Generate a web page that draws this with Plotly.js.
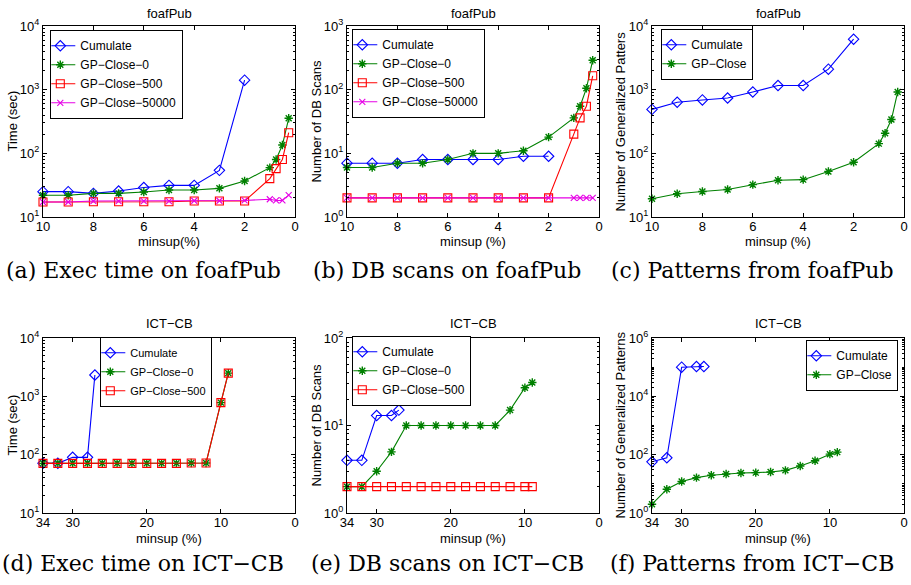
<!DOCTYPE html>
<html>
<head>
<meta charset="utf-8">
<script src="https://cdn.plot.ly/plotly-3.0.1.min.js"></script>
<style>html,body{margin:0;padding:0;background:#fff;}#chart{width:911px;height:585px;}</style>
</head>
<body>
<div id="chart"></div>
<script>
// ---------- data ----------
// foafPub (minsup %)
var xFoafCum = [10, 9, 8, 7, 6, 5, 4, 3, 2];
var xFoafGP = [10, 9, 8, 7, 6, 5, 4, 3, 2, 1, 0.75, 0.5, 0.25];
// (a) execution time (sec)
var timeFoafCumulate = [25, 25, 23.5, 25.6, 29, 31.4, 31.4, 54, 1410];
var timeFoafGP0 = [22, 22, 23.5, 23.5, 24.7, 26.6, 26.6, 28.2, 36.7, 59.6, 80, 135, 355];
var timeFoafGP500 = [17.2, 17.2, 17.4, 17.4, 17.4, 17.4, 17.8, 17.8, 17.8, 40, 57.5, 80, 211];
var timeFoafGP50000 = [17.2, 17.2, 17.8, 17.8, 17.8, 17.8, 18, 18, 18.2, 19, 18.2, 18.2, 22];
// (b) number of DB scans
var scansFoafCumulate = [7, 7, 7, 8, 8, 8, 8, 9, 9];
var scansFoafGP0 = [6, 6, 7, 7, 8, 10, 10, 11, 18, 36, 55, 105, 290];
var scansFoafGP500 = [2, 2, 2, 2, 2, 2, 2, 2, 2, 20, 36, 55, 165];
var scansFoafGP50000 = [2, 2, 2, 2, 2, 2, 2, 2, 2, 2, 2, 2, 2];
// (c) number of generalized patterns
var patFoafCumulate = [490, 635, 690, 740, 920, 1160, 1160, 2100, 6200];
var patFoafGP = [19.3, 23.2, 25.2, 27.1, 32.2, 37.7, 38.6, 52, 72.6, 142, 207, 340, 920];

// ICT-CB (minsup %)
var xIctCum = [34, 32, 30, 28, 27];
var xIctGP = [34, 32, 30, 28, 26, 24, 22, 20, 18, 16, 14, 12, 10, 9];
// (d) execution time (sec)
var timeIctCumulate = [71, 71, 90, 90, 2320];
var timeIctGP0 = [71, 71, 71, 71, 71, 71, 71, 71, 71, 71, 72, 72, 780, 2500];
var timeIctGP500 = [71, 71, 71, 71, 71, 71, 71, 71, 71, 71, 72, 72, 780, 2500];
// (e) number of DB scans
var scansIctCumulate = [4, 4, 13, 13, 15];
var scansIctGP0 = [2, 2, 3, 5, 10, 10, 10, 10, 10, 10, 10, 15, 27, 31];
var scansIctGP500 = [2, 2, 2, 2, 2, 2, 2, 2, 2, 2, 2, 2, 2, 2];
// (f) number of generalized patterns
var patIctCumulate = [57, 78, 100000, 105000, 105000];
var patIctGP = [2, 6.5, 12, 16.3, 19.6, 21.8, 23.5, 24.2, 25.5, 29, 40.7, 62, 104, 122];

// labels
var panelTitles = ['foafPub', 'foafPub', 'foafPub', 'ICT−CB', 'ICT−CB', 'ICT−CB'];
var yTitles = ['Time (sec)', 'Number of DB Scans', 'Number of Generalized Patters',
               'Time (sec)', 'Number of DB Scans', 'Number of Generalized Patterns'];
var xTitles = ['minsup(%)', 'minsup (%)', 'minsup (%)', 'minsup (%)', 'minsup (%)', 'minsup (%)'];
var captions = ['(a) Exec time on foafPub', '(b) DB scans on foafPub', '(c) Patterns from foafPub',
                '(d) Exec time on ICT−CB', '(e) DB scans on ICT−CB', '(f) Patterns from ICT−CB'];
var foafXTicks = [10, 8, 6, 4, 2, 0];
var ictXTicks = [34, 30, 20, 10, 0];
var yTickVals1to4 = [10, 100, 1000, 10000];
var yTickText1to4 = ['10<sup>1</sup>', '10<sup>2</sup>', '10<sup>3</sup>', '10<sup>4</sup>'];
var yTickVals0to3 = [1, 10, 100, 1000];
var yTickText0to3 = ['10<sup>0</sup>', '10<sup>1</sup>', '10<sup>2</sup>', '10<sup>3</sup>'];
var yTickVals0to2 = [1, 10, 100];
var yTickText0to2 = ['10<sup>0</sup>', '10<sup>1</sup>', '10<sup>2</sup>'];
var yTickVals0to6 = [1, 100, 10000, 1000000];
var yTickText0to6 = ['10<sup>0</sup>', '10<sup>2</sup>', '10<sup>4</sup>', '10<sup>6</sup>'];

// ---------- styling ----------
var W = 911, H = 585;
var FONT = 'Liberation Sans, Arial, sans-serif';
var SERIF = 'DejaVu Serif, Liberation Serif, serif';
var BLUE = '#0000ff', GREEN = '#008000', RED = '#ff0000', MAG = '#e600e6';

var cols = [[43, 295], [347, 599], [652, 904]];
var rows = [[26, 217], [338, 513]];
function xd(c) { return [cols[c][0] / W, cols[c][1] / W]; }
function yd(r) { return [1 - rows[r][1] / H, 1 - rows[r][0] / H]; }

function styleCum() { return {mode: 'lines+markers', cliponaxis: false, line: {color: BLUE, width: 1.1},
  marker: {symbol: 'diamond-open', size: 8, color: BLUE, line: {width: 1.1, color: BLUE}}}; }
function styleGP0() { return {mode: 'lines+markers', cliponaxis: false, line: {color: GREEN, width: 1.1},
  marker: {symbol: 'asterisk-open', size: 7, color: GREEN, line: {width: 1.4, color: GREEN}}}; }
function styleGP500() { return {mode: 'lines+markers', cliponaxis: false, line: {color: RED, width: 1.1},
  marker: {symbol: 'square-open', size: 8, color: RED, line: {width: 1.1, color: RED}}}; }
function styleGP50000() { return {mode: 'lines+markers', cliponaxis: false, line: {color: MAG, width: 1.1},
  marker: {symbol: 'x-thin-open', size: 6, color: MAG, line: {width: 1.1, color: MAG}}}; }

function tr(style, x, y, name, ax, lg) {
  var t = style();
  t.type = 'scatter'; t.x = x; t.y = y; t.name = name;
  t.xaxis = 'x' + (ax === 1 ? '' : ax); t.yaxis = 'y' + (ax === 1 ? '' : ax);
  t.legend = lg;
  return t;
}

var data = [
  tr(styleCum, xFoafCum, timeFoafCumulate, 'Cumulate', 1, 'legend'),
  tr(styleGP0, xFoafGP, timeFoafGP0, 'GP−Close−0', 1, 'legend'),
  tr(styleGP500, xFoafGP, timeFoafGP500, 'GP−Close−500', 1, 'legend'),
  tr(styleGP50000, xFoafGP, timeFoafGP50000, 'GP−Close−50000', 1, 'legend'),

  tr(styleCum, xFoafCum, scansFoafCumulate, 'Cumulate', 2, 'legend2'),
  tr(styleGP0, xFoafGP, scansFoafGP0, 'GP−Close−0', 2, 'legend2'),
  tr(styleGP500, xFoafGP, scansFoafGP500, 'GP−Close−500', 2, 'legend2'),
  tr(styleGP50000, xFoafGP, scansFoafGP50000, 'GP−Close−50000', 2, 'legend2'),

  tr(styleCum, xFoafCum, patFoafCumulate, 'Cumulate', 3, 'legend3'),
  tr(styleGP0, xFoafGP, patFoafGP, 'GP−Close', 3, 'legend3'),

  tr(styleCum, xIctCum, timeIctCumulate, 'Cumulate', 4, 'legend4'),
  tr(styleGP0, xIctGP, timeIctGP0, 'GP−Close−0', 4, 'legend4'),
  tr(styleGP500, xIctGP, timeIctGP500, 'GP−Close−500', 4, 'legend4'),

  tr(styleCum, xIctCum, scansIctCumulate, 'Cumulate', 5, 'legend5'),
  tr(styleGP0, xIctGP, scansIctGP0, 'GP−Close−0', 5, 'legend5'),
  tr(styleGP500, xIctGP, scansIctGP500, 'GP−Close−500', 5, 'legend5'),

  tr(styleCum, xIctCum, patIctCumulate, 'Cumulate', 6, 'legend6'),
  tr(styleGP0, xIctGP, patIctGP, 'GP−Close', 6, 'legend6')
];

function xaxis(c, r, range, ticks) {
  return {domain: xd(c), range: range, autorange: false, tickmode: 'array', tickvals: ticks,
    ticks: 'inside', ticklen: 4, tickcolor: '#000', showline: true, linecolor: '#000', linewidth: 1,
    mirror: 'ticks', showgrid: false, zeroline: false, tickfont: {family: FONT, size: 13, color: '#000'},
    ticklabelstandoff: -3};
}
function yaxis(c, r, range, vals, text) {
  return {domain: yd(r), type: 'log', range: range, autorange: false, tickmode: 'array', tickvals: vals, ticktext: text,
    ticks: 'inside', ticklen: 4, tickcolor: '#000', showline: true, linecolor: '#000', linewidth: 1,
    mirror: 'ticks', showgrid: false, zeroline: false, tickfont: {family: FONT, size: 13, color: '#000'},
    minor: {ticks: 'inside', ticklen: 2, tickcolor: '#000', dtick: 'D1', showgrid: false}};
}

var layout = {
  width: W, height: H, margin: {l: 0, r: 0, t: 0, b: 0}, paper_bgcolor: '#fff', plot_bgcolor: '#fff',
  font: {family: FONT, size: 13, color: '#000'}, showlegend: true,
  xaxis: xaxis(0, 0, [10, 0], foafXTicks), yaxis: yaxis(0, 0, [1, 4], yTickVals1to4, yTickText1to4),
  xaxis2: xaxis(1, 0, [10, 0], foafXTicks), yaxis2: yaxis(1, 0, [0, 3], yTickVals0to3, yTickText0to3),
  xaxis3: xaxis(2, 0, [10, 0], foafXTicks), yaxis3: yaxis(2, 0, [1, 4], yTickVals1to4, yTickText1to4),
  xaxis4: xaxis(0, 1, [34, 0], ictXTicks), yaxis4: yaxis(0, 1, [1, 4], yTickVals1to4, yTickText1to4),
  xaxis5: xaxis(1, 1, [34, 0], ictXTicks), yaxis5: yaxis(1, 1, [0, 2], yTickVals0to2, yTickText0to2),
  xaxis6: xaxis(2, 1, [34, 0], ictXTicks), yaxis6: yaxis(2, 1, [0, 6], yTickVals0to6, yTickText0to6),
  annotations: []
};
for (var i = 1; i <= 6; i++) {
  var s = i === 1 ? '' : String(i);
  layout['xaxis' + s].anchor = 'y' + s;
  layout['yaxis' + s].anchor = 'x' + s;
}

function legendBox(px, py, fs) {
  return {x: px / W, y: 1 - py / H, xref: 'paper', yref: 'paper', xanchor: 'left', yanchor: 'top',
    bgcolor: '#fff', bordercolor: '#000', borderwidth: 1.3, font: {family: FONT, size: fs || 12, color: '#000'},
    tracegroupgap: 0, itemwidth: 30, indentation: -11};
}
layout.legend = legendBox(50, 30);
layout.legend2 = legendBox(352, 29);
layout.legend3 = legendBox(661, 29);
layout.legend4 = legendBox(100, 337, 11);
layout.legend5 = legendBox(352, 336);
layout.legend6 = legendBox(806, 340);

var titleY = [13, 323], xTitleY = [242, 538], captionY = [270, 563];
var yTitleX = [12, 316, 620];
for (var k = 0; k < 6; k++) {
  var c = k % 3, r = Math.floor(k / 3);
  var cx = (cols[c][0] + cols[c][1]) / 2;
  var cy = (rows[r][0] + rows[r][1]) / 2;
  layout.annotations.push({text: panelTitles[k], x: cx / W, y: 1 - titleY[r] / H, xref: 'paper', yref: 'paper',
    xanchor: 'center', yanchor: 'middle', showarrow: false, font: {family: FONT, size: 13, color: '#000'}});
  layout.annotations.push({text: xTitles[k], x: cx / W, y: 1 - xTitleY[r] / H, xref: 'paper', yref: 'paper',
    xanchor: 'center', yanchor: 'middle', showarrow: false, font: {family: FONT, size: 13, color: '#000'}});
  layout.annotations.push({text: yTitles[k], x: yTitleX[c] / W, y: 1 - cy / H, xref: 'paper', yref: 'paper',
    xanchor: 'center', yanchor: 'middle', textangle: -90, showarrow: false, font: {family: FONT, size: 13, color: '#000'}});
  layout.annotations.push({text: captions[k], x: (cx - 26) / W, y: 1 - captionY[r] / H, xref: 'paper', yref: 'paper',
    xanchor: 'center', yanchor: 'middle', showarrow: false, font: {family: SERIF, size: 22, color: '#000'}});
}

Plotly.newPlot('chart', data, layout, {displayModeBar: false, staticPlot: true});
</script>
</body>
</html>
